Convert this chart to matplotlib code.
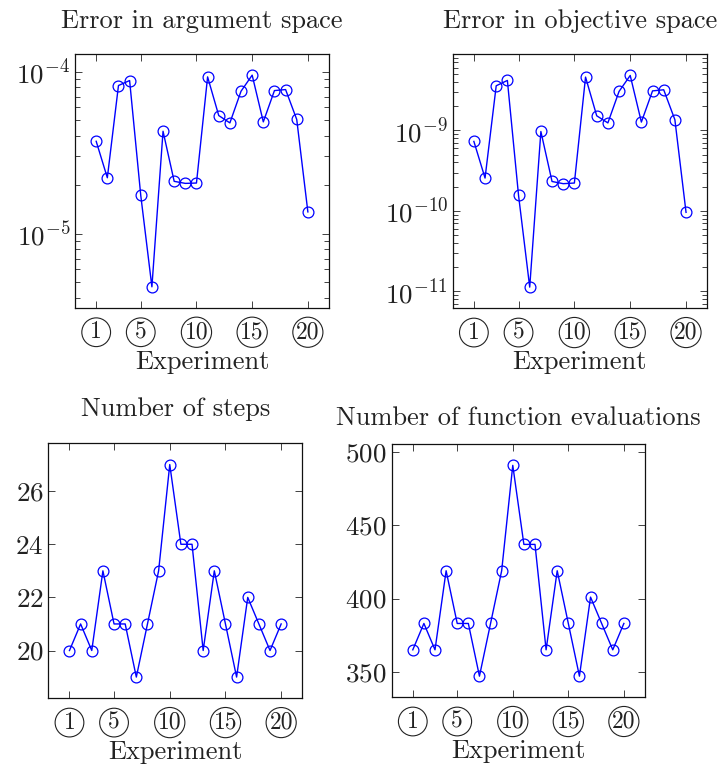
import matplotlib
matplotlib.use("Agg")
import matplotlib.pyplot as plt
from matplotlib.ticker import NullFormatter, LogLocator

plt.rcParams['font.family'] = 'cmr10'
plt.rcParams['mathtext.fontset'] = 'cm'
plt.rcParams['axes.formatter.use_mathtext'] = True
plt.rcParams['font.size'] = 19

# --- données ---
experiments = list(range(1, 21))
err_arg = [3.71e-5, 2.21e-5, 8.2e-5, 8.8e-5, 1.72e-5, 4.69e-6, 4.28e-5, 2.10e-5, 2.04e-5, 2.05e-5,
           9.27e-5, 5.35e-5, 4.82e-5, 7.56e-5, 9.5e-5, 4.89e-5, 7.63e-5, 7.74e-5, 5.06e-5, 1.36e-5]
err_obj = [7.3e-10, 2.56e-10, 3.59e-9, 4.18e-9, 1.56e-10, 1.13e-11, 9.7e-10, 2.32e-10, 2.18e-10, 2.22e-10,
           4.6e-9, 1.52e-9, 1.24e-9, 3.05e-9, 4.82e-9, 1.27e-9, 3.1e-9, 3.2e-9, 1.36e-9, 9.6e-11]
n_steps = [20, 21, 20, 23, 21, 21, 19, 21, 23, 27, 24, 24, 20, 23, 21, 19, 22, 21, 20, 21]
n_evals = [365, 383, 365, 419, 383, 383, 347, 383, 419, 491, 437, 437, 365, 419, 383, 347, 401, 383, 365, 383]

x_ticks = [1, 5, 10, 15, 20]
x_ticklabels = ['1', '5', '10', '15', '20']
steps_ticks = [20, 22, 24, 26]
evals_ticks = [350, 400, 450, 500]

fig = plt.figure(figsize=(7.2, 7.69), dpi=100)

# positions (left, bottom, width, height) en fraction de figure
panels = [
    ([0.1042, 0.5995, 0.3528, 0.3303], err_arg, "Error in argument space", True, None, 19),
    ([0.6287, 0.5991, 0.3536, 0.3303], err_obj, "Error in objective space", True, None, 19),
    ([0.0671, 0.0919, 0.3528, 0.3316], n_steps, "Number of steps", False, steps_ticks, 20),
    ([0.5440, 0.0933, 0.3518, 0.3290], n_evals, "Number of function evaluations", False, evals_ticks, 14),
]

for pos, values, title, logy, yticks, tpad in panels:
    ax = fig.add_axes(pos)
    ax.plot(experiments, values, color='blue', lw=1.0, marker='o', markersize=7.8,
            markerfacecolor='none', markeredgecolor='blue', markeredgewidth=0.9)
    if logy:
        ax.set_yscale('log')
        ax.yaxis.set_major_locator(LogLocator(base=10))
        ax.yaxis.set_minor_locator(LogLocator(base=10, subs=range(2, 10)))
        ax.yaxis.set_minor_formatter(NullFormatter())
    else:
        ax.set_yticks(yticks)
    ax.margins(x=0.1, y=0.1)
    ax.set_xticks(x_ticks, x_ticklabels)
    for lab in ax.get_xticklabels():
        lab.set_bbox(dict(boxstyle='circle,pad=0.14', fc='none', ec='#222222', lw=0.8))
        lab.set_fontsize(17)
    ax.tick_params(which='both', direction='in', top=True, right=True, width=0.6,
                   colors='#222222', labelcolor='#222222')
    ax.tick_params(which='major', length=5)
    ax.tick_params(which='minor', length=3.5)
    ax.tick_params(axis='x', pad=9.5)
    ax.tick_params(axis='y', labelsize=19.5)
    for sp in ax.spines.values():
        sp.set_linewidth(0.9)
        sp.set_color('#111111')
    ax.set_title(title, pad=tpad, fontsize=19, color='#222222')
    ax.set_xlabel("Experiment", labelpad=5, color='#222222')

fig.savefig("out.png", dpi=100)
